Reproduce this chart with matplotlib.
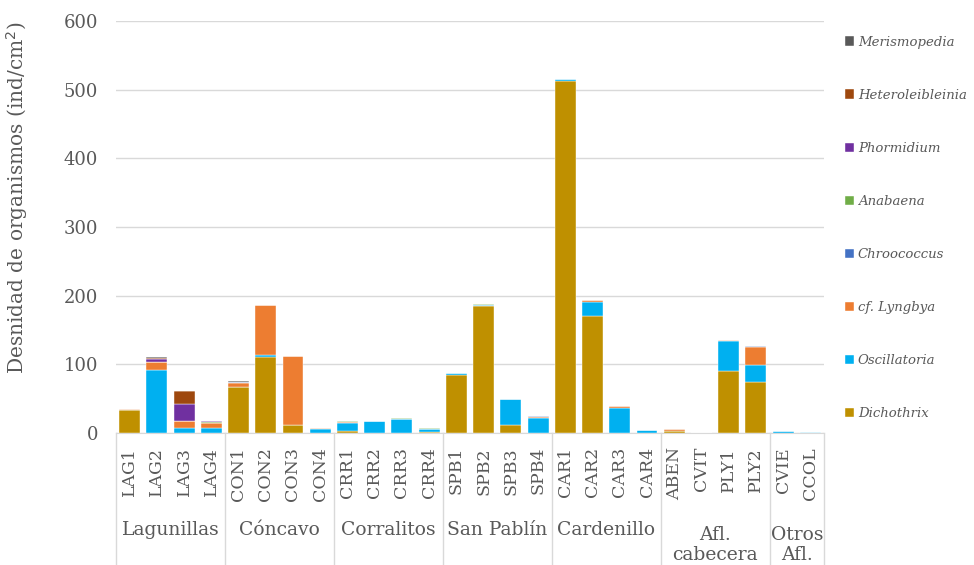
import matplotlib
matplotlib.use("Agg")
import matplotlib.pyplot as plt
import numpy as np
from matplotlib.lines import Line2D

plt.rcParams['font.family'] = ['DejaVu Serif']

sites = ["LAG1", "LAG2", "LAG3", "LAG4", "CON1", "CON2", "CON3", "CON4",
         "CRR1", "CRR2", "CRR3", "CRR4", "SPB1", "SPB2", "SPB3", "SPB4",
         "CAR1", "CAR2", "CAR3", "CAR4", "ABEN", "CVIT", "PLY1", "PLY2",
         "CVIE", "CCOL"]
groups = ["Lagunillas", "Cóncavo", "Corralitos", "San Pablín", "Cardenillo",
          "Afl.\ncabecera", "Otros\nAfl."]
group_sizes = [4, 4, 4, 4, 4, 4, 2]

dichothrix = [34, 0, 0, 0, 67, 110, 12, 0, 2.4, 0, 0, 2, 85, 185, 11, 0,
              512, 171, 0, 0, 3.5, 0, 90.7, 74.7, 0, 0]
oscillatoria = [0, 92, 8, 7.8, 0, 3, 0, 5.5, 11.6, 18, 20, 3.4, 2, 2, 39, 21.8,
                3.4, 20.4, 37, 4.8, 0, 0, 43.2, 24.7, 2.5, 2]
lyngbya = [1, 11, 9.7, 6.8, 6.3, 74, 100, 1.5, 2.5, 0, 0, 0, 0, 0, 0, 2,
           0, 2.9, 2.4, 0, 1.8, 0, 1.5, 26.2, 0, 0]
chroococcus = [0, 0, 0, 0, 0.5, 0, 0, 0, 0, 0, 0, 0, 0, 0, 0, 1,
               0, 0, 0, 0, 0, 0, 0, 1.5, 0, 0]
anabaena = [0, 0, 0, 1.5, 0, 0, 0, 0, 1.5, 0, 1.5, 1.5, 0, 1, 0, 0,
            0, 0, 0, 0, 0, 0, 0, 0, 0, 0]
phormidium = [0, 5, 24.7, 1, 0, 0, 0, 0, 0, 0, 0, 0, 0, 0, 0, 0,
              0, 0, 0, 0, 0, 0, 0, 0, 0, 0]
heteroleibleinia = [0, 1, 19.4, 0, 0, 0, 0, 0, 0, 0, 0, 0, 0, 0, 0, 0,
                    0, 0, 0, 0, 0, 0, 0, 0, 0, 0]
merismopedia = [0, 1, 0, 0, 1.5, 0, 0, 0, 0, 0, 0, 0, 0, 0, 0, 0,
                0, 0, 0, 0, 0, 0, 0, 0, 0, 0]

series = [
    ("Dichothrix", dichothrix, "#BF9000"),
    ("Oscillatoria", oscillatoria, "#00B0F0"),
    ("cf. Lyngbya", lyngbya, "#ED7D31"),
    ("Chroococcus", chroococcus, "#4472C4"),
    ("Anabaena", anabaena, "#70AD47"),
    ("Phormidium", phormidium, "#7030A0"),
    ("Heteroleibleinia", heteroleibleinia, "#9E480E"),
    ("Merismopedia", merismopedia, "#595959"),
]

W, H = 974, 565
GREY = "#595959"
fig = plt.figure(figsize=(W / 100, H / 100), dpi=100)
ax = fig.add_axes([116 / W, (H - 433) / H, (824 - 116) / W, (433 - 21) / H])

x = np.arange(len(sites))
bottom = np.zeros(len(sites))
handles = []
for name, vals, color in series:
    v = np.array(vals, dtype=float)
    b = ax.bar(x, v, bottom=bottom, width=0.77, color=color,
               edgecolor="white", linewidth=0.3, label=name, zorder=3)
    handles.append(b)
    bottom += v

ax.set_xlim(-0.5, len(sites) - 0.5)
ax.set_ylim(0, 600)
ax.set_yticks(range(0, 601, 100))
ax.yaxis.grid(True, color="#D9D9D9", linewidth=1, zorder=0)
ax.tick_params(axis="y", length=0, labelsize=13, labelcolor=GREY, pad=13)
for s in ["top", "right", "left"]:
    ax.spines[s].set_visible(False)
ax.spines["bottom"].set_color("#D9D9D9")

ax.set_xticks(x)
ax.set_xticklabels(sites, rotation=90, fontsize=12.5, color=GREY, va="top")
ax.tick_params(axis="x", length=0, pad=10)

ax.set_ylabel("Desnidad de organismos (ind/cm$^2$)", fontsize=14.5, color=GREY)
ax.yaxis.set_label_coords(-0.122, 0.57)

# group separators and group names below the site labels
trans = ax.get_xaxis_transform()
span = 433 - 21
depth = -(H - 433) / span
edges = np.concatenate([[0], np.cumsum(group_sizes)]) - 0.5
for e in edges:
    ax.add_line(Line2D([e, e], [0, depth], transform=trans, color="#D9D9D9",
                       linewidth=1, clip_on=False))
for g, lo, hi in zip(groups, edges[:-1], edges[1:]):
    y = 545 if "\n" in g else 530
    ax.text((lo + hi) / 2, -(y - 433) / span, g, transform=trans,
            ha="center", va="center", fontsize=13.5, color=GREY,
            linespacing=1.15)

leg = ax.legend(handles[::-1], [s[0] for s in series][::-1],
                loc="upper left", bbox_to_anchor=(838 / W, 1 - 29 / H),
                bbox_transform=fig.transFigure, frameon=False,
                handlelength=0.7, handleheight=0.7, handletextpad=0.3,
                labelspacing=3.04, borderpad=0,
                prop={"style": "italic", "size": 9.5})
for t in leg.get_texts():
    t.set_color(GREY)

fig.savefig("out.png", dpi=100)
